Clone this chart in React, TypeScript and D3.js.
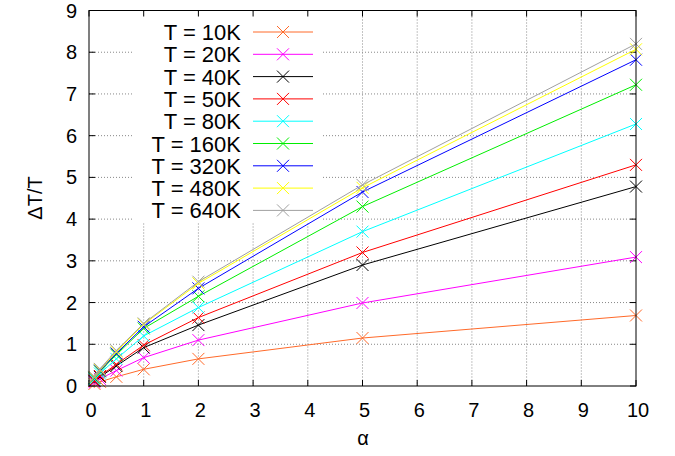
import React from "react";
import * as d3 from "d3";

const alphas = [0.1, 0.2, 0.5, 1, 2, 5, 10];
const labels = ["T = 10K", "T = 20K", "T = 40K", "T = 50K", "T = 80K", "T = 160K", "T = 320K", "T = 480K", "T = 640K"];
const colors = ["#ff6a2a", "#ff00ff", "#000000", "#ff0000", "#00ffff", "#00ee00", "#0000ff", "#ffff00", "#a0a0a0"];
const t10 = [0.05, 0.1, 0.22, 0.4, 0.65, 1.15, 1.69];
const t20 = [0.09, 0.17, 0.37, 0.68, 1.1, 1.99, 3.09];
const t40 = [0.12, 0.22, 0.48, 0.92, 1.46, 2.9, 4.78];
const t50 = [0.13, 0.24, 0.52, 0.98, 1.64, 3.2, 5.3];
const t80 = [0.16, 0.3, 0.65, 1.2, 1.88, 3.7, 6.28];
const t160 = [0.19, 0.35, 0.75, 1.38, 2.15, 4.3, 7.22];
const t320 = [0.2, 0.37, 0.78, 1.42, 2.34, 4.65, 7.82];
const t480 = [0.21, 0.39, 0.82, 1.48, 2.46, 4.75, 8.07];
const t640 = [0.22, 0.41, 0.85, 1.5, 2.5, 4.82, 8.2];
const series = [t10, t20, t40, t50, t80, t160, t320, t480, t640];
const xTicks = [0, 1, 2, 3, 4, 5, 6, 7, 8, 9, 10];
const yTicks = [0, 1, 2, 3, 4, 5, 6, 7, 8, 9];

const W = 675, H = 456;
const L = 89, R = 636, T = 10.5, B = 386;
const FONT = "Liberation Sans, Arial, sans-serif";

function Cross({ x, y, c, s = 6 }: { x: number; y: number; c: string; s?: number }) {
  return (
    <g stroke={c} strokeWidth={1}>
      <line x1={x - s} y1={y - s} x2={x + s} y2={y + s} />
      <line x1={x - s} y1={y + s} x2={x + s} y2={y - s} />
    </g>
  );
}

export default function App() {
  const x = d3.scaleLinear().domain([0, 10]).range([L, R]);
  const y = d3.scaleLinear().domain([0, 9]).range([B, T]);
  const line = d3.line<number>().x((_, i) => x(alphas[i])).y((d) => y(d));
  const legX1 = 253, legX2 = 313, legTextX = 241, legY0 = 32, legDy = 22.3;
  return (
    <svg width={W} height={H} style={{ position: "absolute", left: 0, top: 0, background: "#fff" }} fontFamily={FONT}>
      <rect width={W} height={H} fill="#fff" />
      {/* grid */}
      <g stroke="#888" strokeWidth={1} strokeDasharray="1,2">
        {xTicks.slice(1, -1).map((t) => (
          <line key={"gx" + t} x1={x(t)} x2={x(t)} y1={T} y2={B} />
        ))}
        {yTicks.slice(1, -1).map((t) => (
          <line key={"gy" + t} x1={L} x2={R} y1={y(t)} y2={y(t)} />
        ))}
      </g>
      {/* opaque key box */}
      <rect x={133} y={T + 1} width={190} height={211} fill="#fff" />
      {/* ticks */}
      <g stroke="#000" strokeWidth={1}>
        {xTicks.map((t) => (
          <g key={"tx" + t}>
            <line x1={x(t)} x2={x(t)} y1={B} y2={B - 6} />
            <line x1={x(t)} x2={x(t)} y1={T} y2={T + 6} />
          </g>
        ))}
        {yTicks.map((t) => (
          <g key={"ty" + t}>
            <line x1={L} x2={L + 6} y1={y(t)} y2={y(t)} />
            <line x1={R} x2={R - 6} y1={y(t)} y2={y(t)} />
          </g>
        ))}
      </g>
      {/* tick labels */}
      <g fontSize={20} fill="#000">
        {xTicks.map((t) => (
          <text key={"lx" + t} x={x(t) + 2} y={B + 31} textAnchor="middle">
            {t}
          </text>
        ))}
        {yTicks.map((t) => (
          <text key={"ly" + t} x={77} y={y(t) + 7} textAnchor="end">
            {t}
          </text>
        ))}
      </g>
      <text x={363} y={445} fontSize={20} textAnchor="middle">α</text>
      <text transform={`translate(42,198) rotate(-90)`} fontSize={20} textAnchor="middle">ΔT/T</text>
      {/* series */}
      {series.map((s, k) => (
        <g key={"s" + k}>
          <path d={line(s) || ""} fill="none" stroke={colors[k]} strokeWidth={1} />
          {s.map((v, i) => (
            <Cross key={i} x={x(alphas[i])} y={y(v)} c={colors[k]} />
          ))}
        </g>
      ))}
      {/* legend */}
      {labels.map((lab, k) => {
        const yy = legY0 + k * legDy;
        return (
          <g key={"lg" + k}>
            <text x={legTextX} y={yy + 8} fontSize={22} textAnchor="end">
              {lab}
            </text>
            <line x1={legX1} x2={legX2} y1={yy} y2={yy} stroke={colors[k]} strokeWidth={1} />
            <Cross x={(legX1 + legX2) / 2} y={yy} c={colors[k]} />
          </g>
        );
      })}
      {/* frame */}
      <rect x={L} y={T} width={R - L} height={B - T} fill="none" stroke="#000" strokeWidth={1} />
    </svg>
  );
}
